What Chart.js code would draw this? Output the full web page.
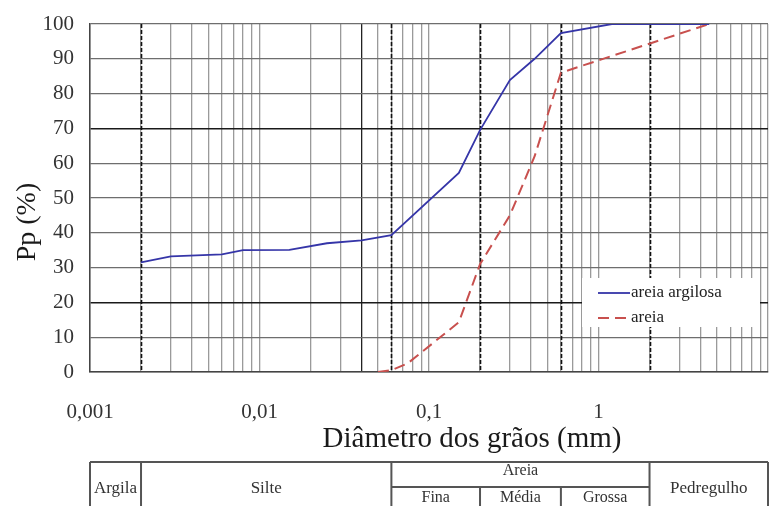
<!DOCTYPE html>
<html>
<head>
<meta charset="utf-8">
<script src="https://cdn.jsdelivr.net/npm/chart.js@4/dist/chart.umd.min.js"></script>
<style>
    body { margin: 0; background: #fff; }
    #wrap { width: 774px; height: 506px; position: relative; }
</style>
</head>
<body>
<div id="wrap"><canvas id="myGraph"></canvas></div>
<script>
// curva granulometrica - diametro (mm) x porcentagem que passa
const argilosaDiam = [0.002, 0.003, 0.006, 0.008, 0.015, 0.025, 0.04, 0.06, 0.15, 0.2, 0.3, 0.42, 0.6, 1.2, 2.0, 4.5];
const argilosaPp   = [31.5, 33.2, 33.8, 35.0, 35.1, 37.0, 37.8, 39.3, 57.2, 69.5, 83.9, 90.0, 97.4, 100, 100, 100];

const areiaDiam = [0.05, 0.06, 0.075, 0.15, 0.2, 0.3, 0.42, 0.6, 4.5];
const areiaPp   = [0, 0.5, 2.5, 14.3, 31, 45, 62, 86, 100];

const xTickValues = [0.001, 0.01, 0.1, 1];
const xTickLabels = ['0,001', '0,01', '0,1', '1'];
const yTickValues = [0, 10, 20, 30, 40, 50, 60, 70, 80, 90, 100];

// limites das classes (escala ABNT)
const classBounds = [0.001, 0.002, 0.06, 0.2, 0.6, 2, 10];
const classNames  = ['Argila', 'Silte', 'Areia', 'Pedregulho'];
const sandNames   = ['Fina', 'Média', 'Grossa'];

const serif = "'Liberation Serif', 'Times New Roman', serif";
Chart.defaults.font.family = serif;

function toPoints(xs, ys) {
    return xs.map((x, i) => ({x: x, y: ys[i]}));
}

function buildLogTicks() {
    let ticks = [];
    xTickValues.forEach(function (dec) {
        for (let k = 1; k <= 9; k++) {
            ticks.push({value: parseFloat((k * dec).toPrecision(3))});
        }
    });
    ticks.push({value: 10});
    return ticks;
}

const extrasPlugin = {
    id: 'extras',
    beforeDatasetsDraw(chart) {
        const ctx = chart.ctx;
        const xs = chart.scales.x;
        const area = chart.chartArea;
        ctx.save();
        ctx.strokeStyle = '#111';
        ctx.lineWidth = 1.6;
        ctx.setLineDash([4, 2]);
        classBounds.slice(1, -1).forEach(function (v) {
            let px = Math.round(xs.getPixelForValue(v)) + 0.5;
            ctx.beginPath();
            ctx.moveTo(px, area.top);
            ctx.lineTo(px, area.bottom);
            ctx.stroke();
        });
        ctx.restore();
    },
    afterDatasetsDraw(chart) {
        // legenda dentro da area do grafico
        const ctx = chart.ctx;
        ctx.save();
        ctx.fillStyle = '#fff';
        ctx.fillRect(582, 278, 178, 49);
        ctx.font = '17px ' + serif;
        ctx.textBaseline = 'middle';
        ctx.textAlign = 'left';
        chart.data.datasets.forEach(function (ds, i) {
            let y = 293 + i * 25;
            ctx.strokeStyle = ds.borderColor;
            ctx.lineWidth = ds.borderWidth;
            ctx.setLineDash(ds.borderDash || []);
            ctx.beginPath();
            ctx.moveTo(598, y);
            ctx.lineTo(630, y);
            ctx.stroke();
            ctx.fillStyle = '#222';
            ctx.fillText(ds.label, 631, y);
        });
        ctx.restore();
    },
    afterDraw(chart) {
        const ctx = chart.ctx;
        const xs = chart.scales.x;
        ctx.save();
        ctx.fillStyle = '#1a1a1a';
        ctx.textAlign = 'center';
        ctx.textBaseline = 'middle';

        // titulos dos eixos
        ctx.font = '28px ' + serif;
        ctx.save();
        ctx.translate(28, 222);
        ctx.rotate(-Math.PI / 2);
        ctx.fillText('Pp (%)', 0, 0);
        ctx.restore();
        ctx.font = '29px ' + serif;
        ctx.fillText('Diâmetro dos grãos (mm)', 472, 439);

        // tabela de classificacao
        let bx = classBounds.map(v => xs.getPixelForValue(v));
        let top = 462, mid = 487, bot = 506;
        ctx.strokeStyle = '#555';
        ctx.lineWidth = 2;
        ctx.beginPath();
        ctx.moveTo(bx[0], top); ctx.lineTo(bx[6], top);
        ctx.moveTo(bx[2], mid); ctx.lineTo(bx[5], mid);
        [0, 1, 2, 5, 6].forEach(function (i) {
            ctx.moveTo(bx[i], top); ctx.lineTo(bx[i], bot);
        });
        [3, 4].forEach(function (i) {
            ctx.moveTo(bx[i], mid); ctx.lineTo(bx[i], bot);
        });
        ctx.stroke();

        ctx.fillStyle = '#333';
        ctx.font = '17px ' + serif;
        ctx.fillText(classNames[0], (bx[0] + bx[1]) / 2, 489);
        ctx.fillText(classNames[1], (bx[1] + bx[2]) / 2, 489);
        ctx.fillText(classNames[3], (bx[5] + bx[6]) / 2, 489);
        ctx.font = '16px ' + serif;
        ctx.fillText(classNames[2], (bx[2] + bx[5]) / 2, 471);
        sandNames.forEach(function (n, i) {
            ctx.fillText(n, (bx[2 + i] + bx[3 + i]) / 2, 498);
        });
        ctx.restore();
    }
};

const ctx = document.getElementById('myGraph').getContext('2d');
let lineChart = new Chart(ctx, {
    type: 'line',
    data: {
        datasets: [
            {
                label: 'areia argilosa',
                data: toPoints(argilosaDiam, argilosaPp),
                borderColor: '#3535a8',
                borderWidth: 1.8,
                fill: false,
                pointRadius: 0,
                tension: 0
            },
            {
                label: 'areia',
                data: toPoints(areiaDiam, areiaPp),
                borderColor: '#c8504e',
                borderWidth: 2,
                borderDash: [11, 6],
                fill: false,
                pointRadius: 0,
                tension: 0
            }
        ]
    },
    options: {
        responsive: true,
        maintainAspectRatio: false,
        animation: false,
        layout: { padding: { top: 24, right: 6, left: 0, bottom: 0 } },
        plugins: {
            legend: { display: false },
            tooltip: { enabled: false }
        },
        scales: {
            x: {
                type: 'logarithmic',
                min: 0.001,
                max: 10,
                afterBuildTicks: function (scale) { scale.ticks = buildLogTicks(); },
                afterFit: function (scale) {
                    scale.height = 134;
                    scale.paddingLeft = 0;
                    scale.paddingRight = 0;
                },
                grid: {
                    drawTicks: false,
                    color: function (c) { return c.tick && c.tick.value === 0.04 ? '#222' : '#9a9a9a'; },
                    lineWidth: 1.3
                },
                border: { color: '#444', width: 1.5 },
                ticks: {
                    autoSkip: false,
                    maxRotation: 0,
                    minRotation: 0,
                    padding: 28,
                    color: '#333',
                    font: { size: 21 },
                    callback: function (value) {
                        let i = xTickValues.findIndex(v => Math.abs(v - value) < v * 1e-6);
                        return i >= 0 ? xTickLabels[i] : '';
                    }
                }
            },
            y: {
                min: 0,
                max: 100,
                afterBuildTicks: function (scale) { scale.ticks = yTickValues.map(v => ({value: v})); },
                afterFit: function (scale) {
                    scale.width = 90;
                    scale.paddingTop = 0;
                    scale.paddingBottom = 0;
                },
                grid: {
                    drawTicks: false,
                    color: function (c) { return (c.tick && (c.tick.value === 20 || c.tick.value === 70)) ? '#1a1a1a' : '#6e6e6e'; },
                    lineWidth: function (c) { return (c.tick && (c.tick.value === 20 || c.tick.value === 70)) ? 1.6 : 1.2; }
                },
                border: { color: '#444', width: 1.5 },
                ticks: {
                    padding: 16,
                    color: '#333',
                    font: { size: 21 }
                }
            }
        }
    },
    plugins: [extrasPlugin]
});
</script>
</body>
</html>
